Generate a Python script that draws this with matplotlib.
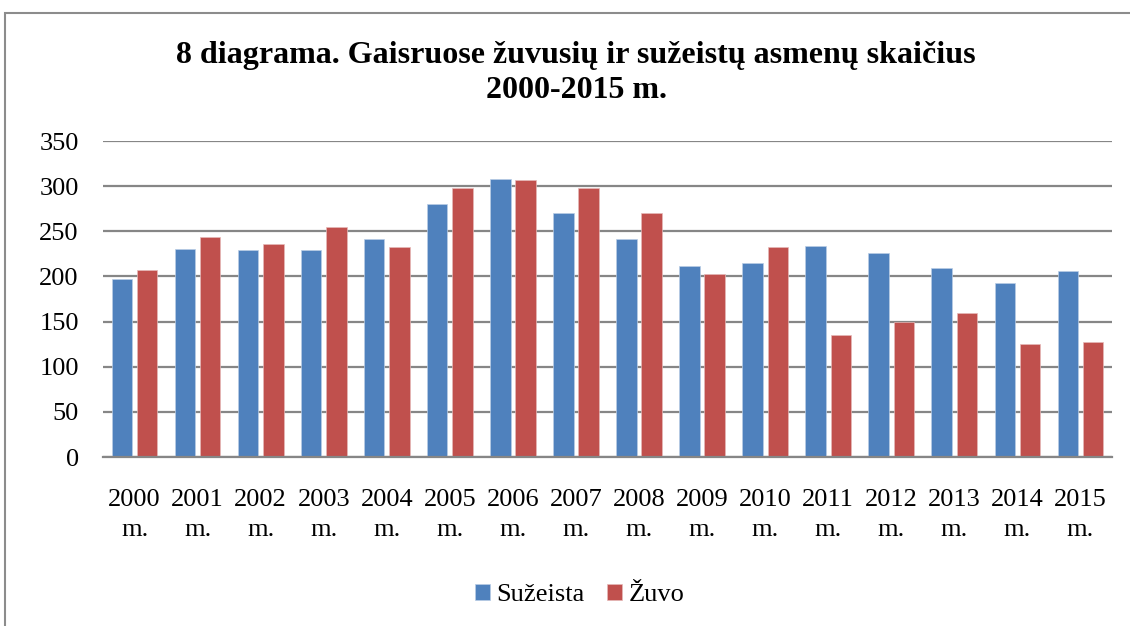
import matplotlib.pyplot as plt
import matplotlib.patches as mpatches
import numpy as np

# Duomenys
metai = ["2000", "2001", "2002", "2003", "2004", "2005", "2006", "2007",
         "2008", "2009", "2010", "2011", "2012", "2013", "2014", "2015"]
suzeista = [197, 230, 229, 229, 242, 280, 308, 270,
            242, 211, 215, 234, 226, 209, 193, 206]
zuvo = [207, 244, 236, 255, 233, 298, 307, 298,
        270, 203, 233, 135, 150, 160, 125, 127]

BLUE = "#4F81BD"
RED = "#C0504D"
GRID = "#868686"

plt.rcParams["font.family"] = ["Liberation Serif", "DejaVu Serif"]

fig = plt.figure(figsize=(11.3, 6.26), dpi=100)
ax = fig.add_axes([103 / 1130, 1 - 457 / 626, 1009 / 1130, 316 / 626])

# rėmelis aplink diagramą
fig.patches.append(mpatches.Rectangle((5 / 1130, -0.1), 1.2, 1 - 13 / 626 + 0.1,
                                      transform=fig.transFigure, fill=False,
                                      edgecolor="#8c8c8c", linewidth=1.5))

x = np.arange(len(metai))
w = 0.325
ax.bar(x - 0.2, suzeista, width=w, color=BLUE, edgecolor="#b9cde5",
       linewidth=0.5, label="Sužeista", zorder=3)
ax.bar(x + 0.2, zuvo, width=w, color=RED, edgecolor="#e6b9b8",
       linewidth=0.5, label="Žuvo", zorder=3)

ax.set_xlim(-0.5, len(metai) - 0.5)
ax.set_ylim(0, 350)
ax.set_yticks(range(0, 351, 50))
ax.set_xticks(x)
ax.set_xticklabels([m + "\nm." for m in metai], linespacing=1.5)
ax.tick_params(axis="both", length=0, labelsize=19)
ax.tick_params(axis="y", pad=17.5)
ax.tick_params(axis="x", pad=23)

ax.grid(axis="y", color=GRID, linewidth=1.6, zorder=0)
for s in ["left", "right", "top"]:
    ax.spines[s].set_visible(False)
ax.spines["bottom"].set_color(GRID)
ax.spines["bottom"].set_linewidth(1.6)
ax.spines["bottom"].set_zorder(4)

fig.text(576 / 1130, 1 - 73 / 626,
         "8 diagrama. Gaisruose žuvusių ir sužeistų asmenų skaičius\n2000-2015 m.",
         ha="center", va="center", fontsize=23, fontweight="bold",
         linespacing=1.3)

fig.legend(loc="center", bbox_to_anchor=(0.513, 1 - 595 / 626), ncol=2,
           frameon=False, fontsize=19, handlelength=0.55, handleheight=0.55,
           handletextpad=0.25, columnspacing=0.85)

fig.savefig("out.png", dpi=100)
